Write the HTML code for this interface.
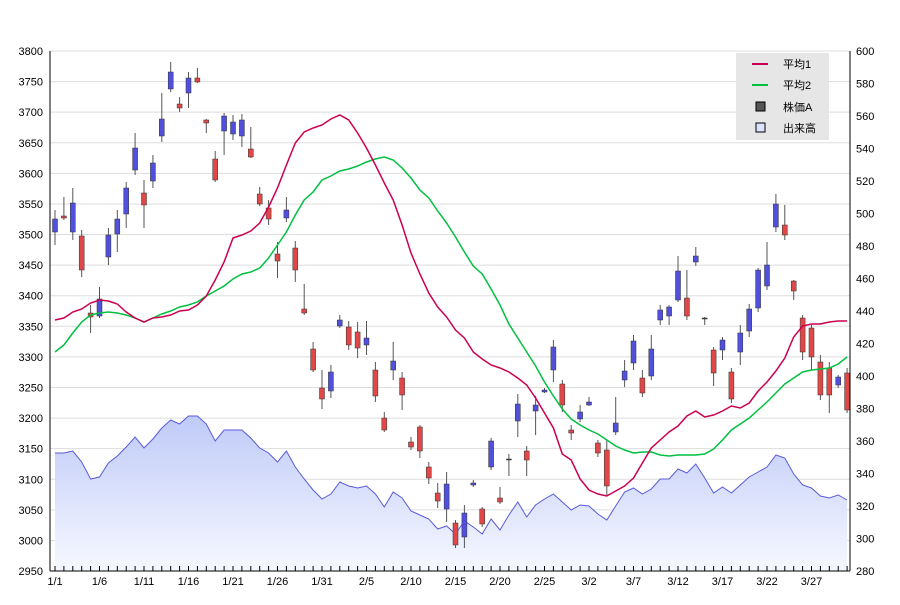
<!DOCTYPE html>
<html><head><meta charset="utf-8"><style>
body{margin:0;background:#fff;}
svg text{font-family:"Liberation Sans","Noto Sans CJK JP",sans-serif;font-size:11px;fill:#000;}
</style></head><body>
<svg id="s" width="900" height="600" xmlns="http://www.w3.org/2000/svg">
<defs><linearGradient id="g" x1="0" y1="0" x2="0" y2="1"><stop offset="0" stop-color="#bfcaf8"/><stop offset="1" stop-color="#f6f8ff"/></linearGradient></defs>
</svg>
<script>
var s=document.getElementById('s'),h='';
function X(i){return 55+8.9*i;}
for(var k=0;k<=17;k++){var y=51+30.59*k;h+='<line x1="50" x2="850" y1="'+y+'" y2="'+y+'" stroke="#dddddd"/>';
h+='<text x="43" y="'+(y+4)+'" text-anchor="end">'+(3800-50*k)+'</text>';}
for(var k=0;k<=16;k++){var y=51+32.5*k;h+='<text x="856" y="'+(y+4)+'">'+(600-20*k)+'</text>';}
var V=[453,453,451,462,479,477,463,456,447,437,448,439,428,420,424,416,416,424,441,430,430,430,438,448,453,462,451,467,479,490,499,494,482,486,488,486,494,507,492,498,511,515,519,529,526,534,521,527,534,519,530,515,502,517,505,499,494,502,510,505,506,514,520,506,492,488,494,489,479,479,469,473,464,478,493,487,493,485,477,472,467,455,458,474,485,488,496,498,495,500];
var p='M55,571';for(var i=0;i<V.length;i++)p+=' L'+X(i)+','+V[i];p+=' L'+X(89)+',571Z';
h+='<path d="'+p+'" fill="url(#g)"/>';
h+='<polyline fill="none" stroke="#5a5ad8" stroke-width="1" points="'+V.map(function(v,i){return X(i)+','+v}).join(' ')+'"/>';
var C=[[0,219,232,210,245],[1,216,218,197,220],[0,203,232,188,240],[1,236,270,230,277],[1,313,317,305,333],[0,299,316,287,318],[0,235,257,228,265],[0,219,234,210,252],[0,188,214,182,228],[0,148,170,133,175],[1,193,205,180,228],[0,163,181,155,188],[0,119,136,93,142],[0,72,89,62,92],[1,104,108,97,112],[0,78,93,72,108],[1,78,82,68,83],[1,120,123,119,133],[1,159,180,151,182],[0,116,131,113,155],[0,122,134,115,140],[0,120,136,114,147],[1,149,157,127,158],[1,194,204,187,206],[1,208,219,200,225],[1,254,261,242,278],[0,210,218,197,222],[1,248,270,241,282],[1,309,313,284,315],[1,349,370,342,372],[1,388,399,370,409],[0,372,391,365,398],[0,320,326,315,328],[1,327,345,321,350],[1,332,348,322,358],[0,338,345,321,355],[1,370,396,362,402],[1,418,430,412,432],[0,361,370,342,380],[1,378,395,372,410],[1,442,447,437,450],[1,427,451,425,458],[1,467,478,462,484],[1,493,501,483,508],[0,484,509,472,522],[1,523,545,520,548],[0,513,537,505,548],[0,483,485,480,487],[1,509,524,507,527],[0,441,467,438,470],[1,498,502,487,504],[2,459,460,454,476],[0,404,421,394,437],[1,451,460,446,476],[0,405,411,396,435],[0,390,392,388,393],[0,347,370,340,382],[1,384,405,380,412],[1,430,433,425,440],[0,412,419,405,422],[0,402,405,397,406],[1,443,453,440,457],[1,450,486,440,496],[0,423,432,397,435],[0,371,380,360,387],[0,341,363,335,370],[1,378,393,370,397],[0,349,376,335,380],[0,310,320,305,325],[0,307,316,305,325],[0,271,300,256,302],[1,298,316,270,320],[0,256,262,247,266],[2,318,319,317,325],[1,350,373,347,386],[0,340,350,337,360],[1,372,399,368,403],[0,333,352,325,365],[0,309,331,304,337],[0,270,308,268,312],[0,265,286,242,290],[0,204,227,194,232],[1,225,235,205,240],[1,281,291,280,300],[1,318,352,315,360],[1,328,357,325,370],[1,362,395,355,400],[1,368,395,362,413],[0,377,385,375,388],[1,373,410,368,413]];
var col=['#5050dc','#e04848','#444'];
C.forEach(function(c,i){var x=X(i);h+='<line x1="'+x+'" x2="'+x+'" y1="'+c[3]+'" y2="'+c[4]+'" stroke="#555"/>';
h+='<rect x="'+(x-2.5)+'" y="'+c[1]+'" width="5" height="'+Math.max(1,c[2]-c[1])+'" fill="'+col[c[0]]+'" stroke="#333" stroke-width="0.5"/>';});
var M1=[320,318,312,309,303,300,301,304,312,318,322,318,317,315,311,310,305,296,280,262,238,235,231,223,207,188,165,143,132,128,125,119,115,120,133,148,165,183,200,225,253,274,293,307,317,330,338,352,359,365,368,372,378,385,398,413,428,454,460,479,490,494,496,491,486,478,463,448,440,432,426,416,411,417,415,411,406,408,403,391,382,371,358,337,326,324,324,322,321,321];
var M2=[352,345,333,322,315,313,312,313,315,318,322,318,314,311,307,305,302,296,291,286,279,274,272,268,258,245,232,215,200,192,180,176,171,169,166,162,159,157,160,168,178,190,198,211,223,237,252,266,274,289,305,324,338,352,366,382,396,409,419,425,430,434,440,446,450,453,452,452,455,456,455,455,455,454,449,440,430,424,418,410,402,393,384,378,372,370,369,368,364,357];
h+='<polyline fill="none" stroke="#00c040" stroke-width="1.5" points="'+M2.map(function(v,i){return X(i)+','+v}).join(' ')+'"/>';
h+='<polyline fill="none" stroke="#cc0050" stroke-width="1.5" points="'+M1.map(function(v,i){return X(i)+','+v}).join(' ')+'"/>';
h+='<line x1="50" x2="50" y1="51" y2="571" stroke="#000"/><line x1="850" x2="850" y1="51" y2="571" stroke="#000"/><line x1="50" x2="850" y1="571" y2="571" stroke="#000"/>';
for(var i=0;i<90;i++){h+='<line x1="'+X(i)+'" x2="'+X(i)+'" y1="566" y2="571" stroke="#000"/>';}
var L=['1/1','1/6','1/11','1/16','1/21','1/26','1/31','2/5','2/10','2/15','2/20','2/25','3/2','3/7','3/12','3/17','3/22','3/27'];
L.forEach(function(t,k){h+='<text x="'+X(5*k)+'" y="585" text-anchor="middle">'+t+'</text>';});
h+='<rect x="736" y="53" width="93" height="87" fill="#e6e6e6"/>';
h+='<line x1="752" x2="768" y1="64" y2="64" stroke="#cc0050" stroke-width="2"/><text x="783" y="68">平均1</text>';
h+='<line x1="752" x2="768" y1="85" y2="85" stroke="#00c040" stroke-width="2"/><text x="783" y="89">平均2</text>';
h+='<rect x="756" y="102" width="9" height="9" fill="#555" stroke="#000"/><text x="783" y="111">株価A</text>';
h+='<rect x="756" y="123" width="9" height="9" fill="#dde3ff" stroke="#000"/><text x="783" y="132">出来高</text>';
s.innerHTML+=h;
</script>
</body></html>
